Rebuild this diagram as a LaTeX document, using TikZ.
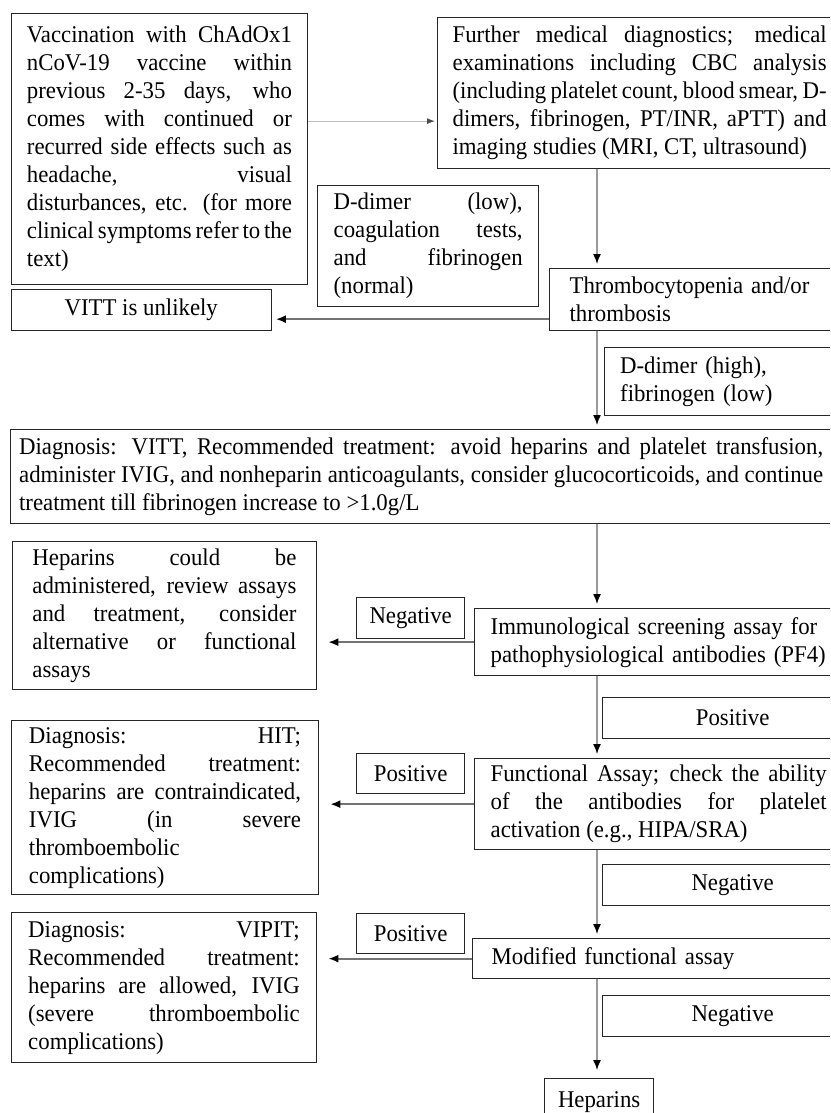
\documentclass[tikz,border=0pt]{standalone}
\usepackage{fontspec}
\setmainfont[FakeStretch=0.95]{Liberation Serif}
\usetikzlibrary{calc}
\usetikzlibrary{arrows.meta}

\begin{document}
\begin{tikzpicture}[x=0.5pt,y=-0.5pt,
		box/.style={draw=black!85,line width=0.65pt,anchor=north west,inner ysep=0pt,font=\fontsize{12}{14}\selectfont},
		jbox/.style={box,align=justify},
		lbox/.style={box,align=left},
		tag/.style={box,align=center},
		flow/.style={draw=black!40,line width=0.7pt,-{Latex[length=5pt,width=4pt,color=black]},shorten >=2pt},
		side/.style={draw=black!55,line width=0.9pt,-{Latex[length=5pt,width=4pt,color=black]},shorten >=5.5pt}]
		\useasboundingbox (0,0) rectangle (830,1113);
		\clip (0,0) rectangle (830,1113);
		\node[jbox,text width=132.5pt,inner xsep=7.85pt,minimum height=135.5pt] (vacc) at (10.6,13) {Vaccination with ChAdOx1\linebreak nCoV-19 vaccine within\linebreak previous 2-35 days, who\linebreak comes with continued or\linebreak recurred side effects such as\linebreak headache, visual\linebreak disturbances, etc. (for more\linebreak clinical symptoms refer to the\linebreak text)};
		\node[jbox,text width=187pt,inner xsep=7.5pt,minimum height=75.5pt] (diag) at (437,17) {Further medical diagnostics; medical\linebreak examinations including CBC analysis\linebreak (including platelet count, blood smear, D-\linebreak dimers, fibrinogen, PT/INR, aPTT) and\linebreak imaging studies (MRI, CT, ultrasound)};
		\node[jbox,text width=94.5pt,inner xsep=8pt,minimum height=60.5pt] (ddlow) at (317,185) {D-dimer (low),\linebreak coagulation tests,\linebreak and fibrinogen\linebreak (normal)};
		\node[lbox,text width=130pt,inner xsep=10pt,minimum height=31pt] (thromb) at (549,268) {Thrombocytopenia and/or\\thrombosis};
		\node[tag,minimum width=130pt,minimum height=20.5pt] (vittno) at (10.6,289) {VITT is unlikely};
		\node[lbox,text width=100pt,inner xsep=8pt,minimum height=34pt] (ddhigh) at (603.5,347) {D-dimer (high),\\fibrinogen (low)};
		\node[jbox,text width=402pt,inner xsep=4.5pt,minimum height=47pt] (vitt) at (9.5,429) {Diagnosis: VITT, Recommended treatment: avoid heparins and platelet transfusion,\linebreak administer IVIG, and nonheparin anticoagulants, consider glucocorticoids, and continue\linebreak treatment till fibrinogen increase to >1.0g/L};
		\node[jbox,text width=132pt,inner xsep=10.1pt,minimum height=74pt] (hepok) at (11.6,541) {Heparins could be\linebreak administered, review assays\linebreak and treatment, consider\linebreak alternative or functional\linebreak assays};
		\node[tag,minimum width=54pt,minimum height=20.5pt] (neg1) at (356,597) {Negative};
		\node[lbox,text width=172pt,inner xsep=8pt,minimum height=33.5pt] (immuno) at (474,608) {Immunological screening assay for\\pathophysiological antibodies (PF4)};
		\node[tag,minimum width=130pt,minimum height=20.5pt] (pos1) at (602,697) {Positive};
		\node[jbox,text width=136pt,inner xsep=8.85pt,minimum height=87pt] (hit) at (10.6,720) {Diagnosis: HIT;\linebreak Recommended treatment:\linebreak heparins are contraindicated,\linebreak IVIG (in severe\linebreak thromboembolic\\complications)};
		\node[tag,minimum width=54pt,minimum height=20pt] (pos2) at (356,753) {Positive};
		\node[jbox,text width=168pt,inner xsep=8pt,minimum height=45.5pt] (func) at (474,758) {Functional Assay; check the ability\linebreak of the antibodies for platelet\linebreak activation (e.g., HIPA/SRA)};
		\node[tag,minimum width=130pt,minimum height=20.5pt] (neg2) at (602,864) {Negative};
		\node[jbox,text width=135.75pt,inner xsep=8.5pt,minimum height=75pt] (vipit) at (10.6,912) {Diagnosis: VIPIT;\linebreak Recommended treatment:\linebreak heparins are allowed, IVIG\linebreak (severe thromboembolic\linebreak complications)};
		\node[tag,minimum width=54pt,minimum height=20pt] (pos3) at (356,913) {Positive};
		\node[lbox,text width=165pt,inner xsep=9.5pt,minimum height=20pt] (modif) at (472,938) {Modified functional assay};
		\node[tag,minimum width=130pt,minimum height=20.5pt] (neg3) at (602,995) {Negative};
		\node[tag,minimum width=54.5pt,minimum height=23pt] (hep) at (544,1078) {Heparins};
		\coordinate (spine) at (597,0);
		\coordinate (m1) at ($(vacc.east)!.5!(diag.west)$);
		\coordinate (l1) at ([yshift=-4.5pt]vittno.east);
		\draw[draw=black!25,line width=0.5pt,-{Latex[length=4pt,width=3pt,color=black!70]},shorten >=1pt] (vacc.east |- m1) -- (diag.west |- m1);
		\draw[flow] (diag.south -| spine) -- (thromb.north -| spine);
		\draw[side,shorten >=2pt] (thromb.west |- l1) -- (l1);
		\draw[flow] (thromb.south -| spine) -- (vitt.north -| spine);
		\draw[flow] (vitt.south -| spine) -- (immuno.north -| spine);
		\draw[side] (immuno.west) -- (hepok.east |- immuno.west);
		\draw[flow] (immuno.south -| spine) -- (func.north -| spine);
		\draw[side] (func.west) -- (hit.east |- func.west);
		\draw[flow] (func.south -| spine) -- (modif.north -| spine);
		\draw[side] (modif.west) -- (vipit.east |- modif.west);
		\draw[flow,shorten >=4pt] (modif.south -| spine) -- (hep.north -| spine);
	\end{tikzpicture}
\end{document}
